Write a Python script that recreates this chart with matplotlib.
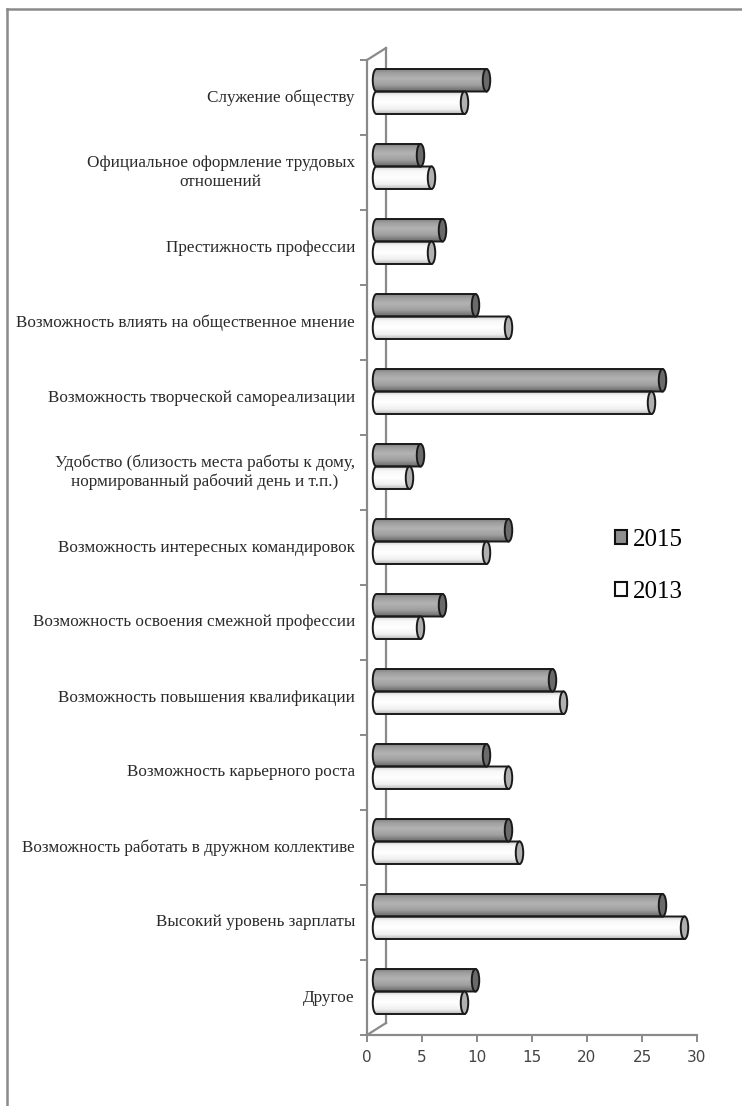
import numpy as np
import matplotlib
matplotlib.use('Agg')
import matplotlib.pyplot as plt
from matplotlib.path import Path
from matplotlib.patches import PathPatch, Ellipse, Patch
from matplotlib.lines import Line2D

# categories top -> bottom
categories = [
    'Служение обществу',
    'Официальное оформление трудовых\nотношений',
    'Престижность профессии',
    'Возможность влиять на общественное мнение',
    'Возможность творческой самореализации',
    'Удобство (близость места работы к дому,\nнормированный рабочий день и т.п.)',
    'Возможность интересных командировок',
    'Возможность освоения смежной профессии',
    'Возможность повышения квалификации',
    'Возможность карьерного роста',
    'Возможность работать в дружном коллективе',
    'Высокий уровень зарплаты',
    'Другое',
]
values_2015 = [10, 4, 6, 9, 26, 4, 12, 6, 16, 10, 12, 26, 9]
values_2013 = [8, 5, 5, 12, 25, 3, 10, 4, 17, 12, 13, 28, 8]
series_names = ['2015', '2013']
xticks = [0, 5, 10, 15, 20, 25, 30]

W, H = 742, 1106
fig = plt.figure(figsize=(W / 100, H / 100), dpi=100)
ax = fig.add_axes([367 / W, (H - 1035) / H, 330 / W, 975 / H])
n = len(categories)
ax.set_xlim(0, 30)
ax.set_ylim(n, 0)

# 3d depth offset (data units)
DX, DY = 1.727, -0.16
d, dy = DX / 2, DY / 2
bar_h = 0.30
rx = 0.34
axis_col = '#8a8a8a'

def shade(stops, npts=64):
    t = np.linspace(0, 1, npts)
    pos = [s[0] for s in stops]
    val = [s[1] for s in stops]
    g = np.interp(t, pos, val)
    return np.dstack([g, g, g]).reshape(npts, 1, 3)

grad_gray = shade([(0, 0.48), (0.2, 0.62), (0.45, 0.70), (0.75, 0.62), (1, 0.42)])
grad_white = shade([(0, 0.80), (0.2, 0.97), (0.5, 1.0), (0.8, 0.94), (1, 0.72)])

def cylinder(yc, v, grad, cap):
    x0, x1 = d, d + v
    top, bot = yc - bar_h / 2, yc + bar_h / 2
    th = np.linspace(np.pi / 2, 3 * np.pi / 2, 30)
    arc = np.column_stack([x0 + rx * np.cos(th), yc - (bar_h / 2) * np.sin(th)])
    verts = np.vstack([[x1, top], arc, [x1, bot], [x1, top]])
    codes = [Path.MOVETO] + [Path.LINETO] * (len(verts) - 2) + [Path.CLOSEPOLY]
    path = Path(verts, codes)
    clip = PathPatch(path, facecolor='none', edgecolor='none', transform=ax.transData)
    ax.add_patch(clip)
    im = ax.imshow(grad, extent=[x0 - rx, x1, bot, top], aspect='auto',
                   origin='upper', zorder=2, interpolation='bilinear')
    im.set_clip_path(clip)
    ax.add_patch(PathPatch(path, facecolor='none', edgecolor='#1a1a1a', lw=1.4, zorder=3))
    ax.add_patch(Ellipse((x1, yc), 2 * rx, bar_h, facecolor=cap,
                         edgecolor='#1a1a1a', lw=1.4, zorder=4))

for k in range(n):
    yc = k + 0.5 + dy
    cylinder(yc - bar_h / 2, values_2015[k], grad_gray, '#6a6a6a')
    cylinder(yc + bar_h / 2, values_2013[k], grad_white, '#b0b0b0')
    ax.text(-1.1, k + 0.5, categories[k], ha='right', va='center',
            multialignment='center', fontsize=12.3, family='Liberation Serif',
            color='#2a2a2a')

ax.set_xlim(0, 30)
ax.set_ylim(n, 0)

# axes / walls
for s in ['top', 'right']:
    ax.spines[s].set_visible(False)
ax.spines['bottom'].set_color(axis_col)
ax.spines['left'].set_color(axis_col)
ax.spines['bottom'].set_linewidth(1.6)
ax.spines['left'].set_linewidth(1.6)
ax.set_xticks(xticks)
ax.set_xticklabels([str(t) for t in xticks], fontsize=11, color='#444444',
                   family='DejaVu Sans')
ax.set_yticks(range(n + 1))
ax.set_yticklabels([])
ax.tick_params(axis='both', direction='out', length=5, width=1.4, color=axis_col)
ax.tick_params(axis='x', pad=6)

wall = dict(color=axis_col, lw=1.6, clip_on=False, zorder=1)
ax.plot([DX, DX], [DY, n + DY], **wall)
ax.plot([0, DX], [0, DY], **wall)
ax.plot([0, DX], [n, n + DY], **wall)

handles = [Patch(facecolor='#8f8f8f', edgecolor='#111111', lw=1.5),
           Patch(facecolor='white', edgecolor='#111111', lw=1.5)]
fig.legend(handles, series_names, loc='upper left', bbox_to_anchor=(592 / W, 1 - 506 / H),
           frameon=False, prop={'family': 'Liberation Serif', 'size': 18},
           handlelength=0.5, handleheight=0.5, handletextpad=0.25, labelspacing=1.2)

# outer frame (top and left edges visible)
fig.add_artist(Line2D([7 / W, 1], [1 - 8.5 / H, 1 - 8.5 / H], transform=fig.transFigure,
                      color='#8a8a8a', lw=1.8))
fig.add_artist(Line2D([7 / W, 7 / W], [0, 1 - 8.5 / H], transform=fig.transFigure,
                      color='#8a8a8a', lw=1.8))

fig.savefig('out.png', dpi=100)
